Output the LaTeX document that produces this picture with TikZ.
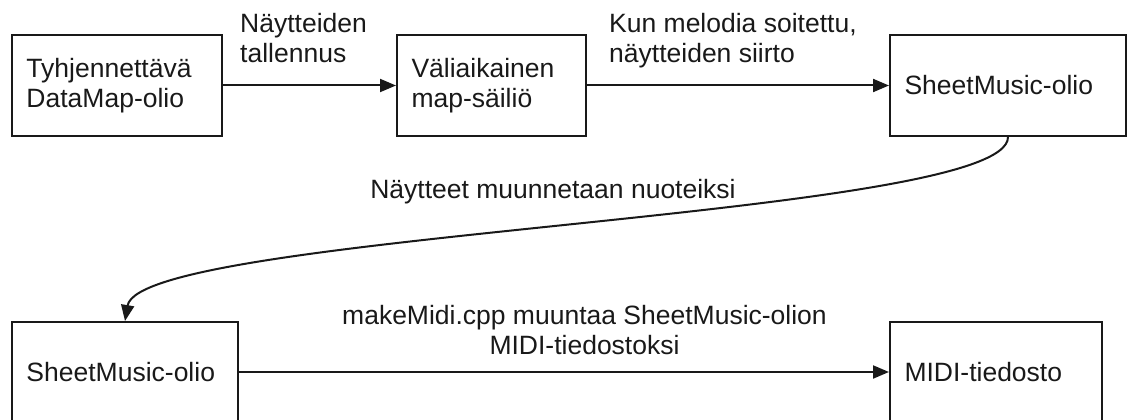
\documentclass[tikz,border=0pt]{standalone}
\usepackage{fontspec}
\setmainfont{Liberation Sans}
\usetikzlibrary{arrows.meta}
\begin{document}
\begin{tikzpicture}[x=1pt,y=-1pt,
  every node/.style={font=\fontsize{26.5}{30}\selectfont, text=black!90},
  box/.style={draw=black!90, line width=2pt, inner xsep=14.5pt, inner ysep=0pt, align=left},
  lbl/.style={inner sep=0pt, align=left},
  conn/.style={draw=black!90, line width=2pt, -{Triangle[length=16pt,width=13pt]}}]
\useasboundingbox (0,0) rectangle (1128,420);
\node[box, minimum width=210pt, minimum height=101pt, text width=181pt] (b1) at (117,85.5) {Tyhjennettävä\\DataMap-olio};
\node[box, minimum width=189pt, minimum height=101pt, text width=160pt] (b2) at (491.5,85.5) {Väliaikainen\\map-säiliö};
\node[box, minimum width=236pt, minimum height=101pt, text width=207pt] (b3) at (1008,85.5) {SheetMusic-olio};
\node[box, minimum width=226pt, minimum height=100pt, text width=197pt] (b4) at (125,372) {SheetMusic-olio};
\node[box, minimum width=212pt, minimum height=100pt, text width=183pt] (b5) at (996,372) {MIDI-tiedosto};
\draw[conn] (b1) -- (b2);
\draw[conn] (b2) -- (b3);
\draw[conn] (b4) -- (b5);
\draw[conn] (b3.south) .. controls (1009,218) and (140,232) .. (b4.north);
\node[lbl, anchor=base west] (l1) at (240,63) {Näytteiden\\tallennus};
\node[lbl, anchor=base west] (l2) at (609,63) {Kun melodia soitettu,\\näytteiden siirto};
\node[lbl, anchor=base] (l3) at (553,198) {Näytteet muunnetaan nuoteiksi};
\node[lbl, anchor=base, align=center] (l4) at (584.5,354) {makeMidi.cpp muuntaa SheetMusic-olion\\MIDI-tiedostoksi};
\end{tikzpicture}
\end{document}
